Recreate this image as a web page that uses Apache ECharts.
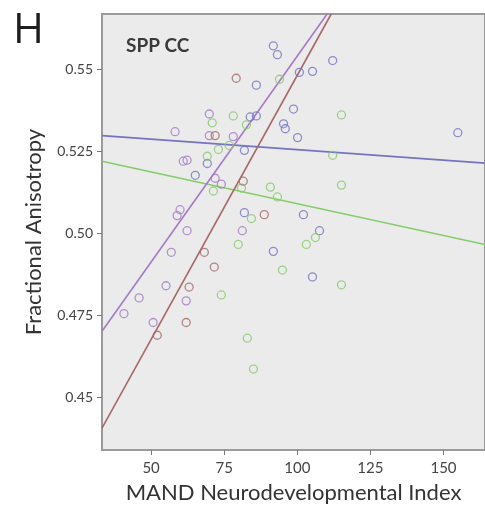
<!DOCTYPE html>
<html>
<head>
<meta charset="utf-8">
<script src="https://cdn.jsdelivr.net/npm/echarts@6/dist/echarts.min.js"></script>
<style>
  html, body { margin: 0; padding: 0; background: #ffffff; }
  #chart { width: 485px; height: 509px; }
</style>
</head>
<body>
<div id="chart"></div>
<script>
// Axis ranges and tick positions
const xRange = [33.2, 164.2];
const yRange = [0.4339, 0.5669];
const xTicks = [50, 75, 100, 125, 150];
const yTicks = [0.45, 0.475, 0.5, 0.525, 0.55];
const yTickLabels = ['0.45', '0.475', '0.50', '0.525', '0.55'];

// Group observations: [MAND index, fractional anisotropy]
const bluePoints = [
  [91.8, 0.5572], [93.2, 0.5545], [86.0, 0.5452], [100.7, 0.5491], [105.2, 0.5494],
  [112.1, 0.5527], [98.7, 0.5379], [95.3, 0.5334], [95.9, 0.5319], [100.1, 0.5292],
  [154.9, 0.5307], [81.9, 0.5253], [83.9, 0.5355], [86.0, 0.5358], [69.2, 0.5213],
  [65.1, 0.5177], [81.9, 0.5063], [102.1, 0.5057], [91.8, 0.4945], [107.6, 0.5008],
  [105.2, 0.4867]
];
const greenPoints = [
  [93.9, 0.5470], [78.1, 0.5358], [82.6, 0.5331], [70.9, 0.5337], [73.0, 0.5256],
  [76.7, 0.5268], [115.1, 0.5361], [112.1, 0.5238], [69.2, 0.5235], [71.3, 0.5129],
  [90.8, 0.5141], [93.2, 0.5111], [115.1, 0.5147], [80.9, 0.5138], [84.3, 0.5045],
  [79.8, 0.4966], [103.1, 0.4966], [106.2, 0.4987], [94.9, 0.4888], [115.1, 0.4843],
  [74.0, 0.4812], [82.9, 0.4680], [85.0, 0.4586]
];
const purplePoints = [
  [78.1, 0.5295], [69.9, 0.5364], [58.2, 0.5310], [69.9, 0.5298], [61.0, 0.5220],
  [62.3, 0.5223], [71.9, 0.5168], [74.0, 0.5150], [59.9, 0.5072], [58.9, 0.5054],
  [62.3, 0.5008], [81.2, 0.5008], [56.9, 0.4942], [55.1, 0.4840], [45.9, 0.4803],
  [62.0, 0.4794], [40.7, 0.4755], [50.7, 0.4728]
];
const redPoints = [
  [79.1, 0.5473], [71.9, 0.5298], [81.5, 0.5159], [88.7, 0.5057], [68.2, 0.4942],
  [71.6, 0.4897], [63.0, 0.4836], [62.0, 0.4728], [52.1, 0.4689]
];

// Fit-line end points per group
const blueFit = [[33.2, 0.5298], [164.2, 0.5214]];
const greenFit = [[33.2, 0.5220], [164.2, 0.4966]];
const purpleFit = [[33.2, 0.4701], [110.2, 0.5669]];
const redFit = [[33.2, 0.4406], [111.6, 0.5669]];

const colors = {
  blue: '#7474c2',
  green: '#86cc6a',
  purple: '#a47ac6',
  red: '#a86868'
};

function scatter(data, color) {
  return {
    type: 'scatter',
    data: data,
    symbol: 'circle',
    symbolSize: 8,
    itemStyle: { color: 'rgba(0,0,0,0)', borderColor: color, borderWidth: 1.3 },
    z: 3
  };
}
function fit(data, color) {
  return {
    type: 'line',
    data: data,
    symbol: 'none',
    lineStyle: { color: color, width: 1.6 },
    clip: true,
    z: 2
  };
}

const chart = echarts.init(document.getElementById('chart'), null, { renderer: 'canvas' });
chart.setOption({
  animation: false,
  backgroundColor: '#ffffff',
  title: [
    { text: 'H', left: 8, top: 5, textStyle: { fontFamily: 'Open Sans', fontSize: 42, fontWeight: 'normal', color: '#1e1e1e' } },
    { text: 'SPP CC', left: 121, top: 31, textStyle: { fontFamily: 'Lato', fontSize: 19, fontWeight: 'bold', color: '#3a3a3a' } }
  ],
  grid: {
    left: 102, top: 14, right: 0, bottom: 54,
    show: true, backgroundColor: '#ebebeb', borderColor: '#9a9a9a', borderWidth: 2
  },
  xAxis: {
    type: 'value', min: xRange[0], max: xRange[1],
    name: 'MAND Neurodevelopmental Index', nameLocation: 'middle', nameGap: 32,
    nameTextStyle: { fontFamily: 'Lato', fontSize: 22, color: '#333' },
    axisLine: { show: true, lineStyle: { color: '#9a9a9a', width: 2 } },
    axisTick: { show: true, customValues: xTicks, length: 5, lineStyle: { color: '#777' } },
    axisLabel: { customValues: xTicks, fontFamily: 'Lato', fontSize: 15, color: '#444', margin: 11 },
    splitLine: { show: false }
  },
  yAxis: {
    type: 'value', min: yRange[0], max: yRange[1],
    name: 'Fractional Anisotropy', nameLocation: 'middle', nameGap: 57,
    nameTextStyle: { fontFamily: 'Lato', fontSize: 22, color: '#333' },
    axisLine: { show: true, lineStyle: { color: '#9a9a9a', width: 2 } },
    axisTick: { show: true, customValues: yTicks, length: 5, lineStyle: { color: '#777' } },
    axisLabel: {
      customValues: yTicks, fontFamily: 'Lato', fontSize: 14, color: '#444', margin: 9,
      formatter: function (v) {
        const i = yTicks.findIndex(t => Math.abs(t - v) < 1e-6);
        return i >= 0 ? yTickLabels[i] : '';
      }
    },
    splitLine: { show: false }
  },
  series: [
    fit(blueFit, colors.blue),
    fit(greenFit, colors.green),
    fit(purpleFit, colors.purple),
    fit(redFit, colors.red),
    scatter(bluePoints, colors.blue),
    scatter(greenPoints, colors.green),
    scatter(purplePoints, colors.purple),
    scatter(redPoints, colors.red)
  ]
});
</script>
</body>
</html>
